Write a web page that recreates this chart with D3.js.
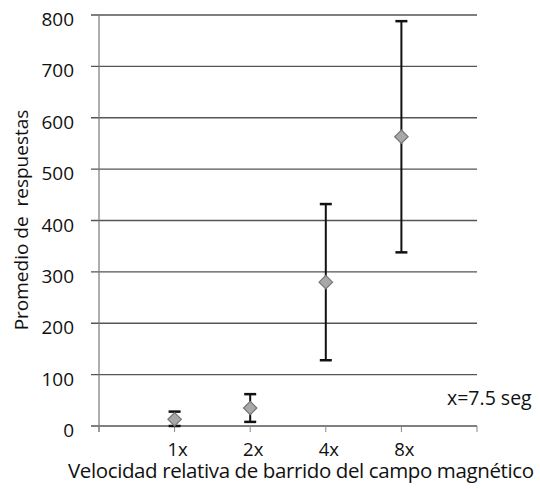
<!DOCTYPE html>
<html>
<head>
<meta charset="utf-8">
<script src="https://cdn.jsdelivr.net/npm/d3@7"></script>
<style>
  html, body { margin: 0; padding: 0; background: #fff; }
  svg { display: block; font-family: "Open Sans", "Noto Sans", sans-serif; }
</style>
</head>
<body>
<svg id="chart" width="540" height="489"></svg>
<script>
// Mean responses per relative sweep speed, with error half-widths
const categories = ["1x", "2x", "4x", "8x"];
const means = [13, 35, 280, 563];
const errors = [15, 27, 152, 225];
const yTicks = [0, 100, 200, 300, 400, 500, 600, 700, 800];
const yTitle = "Promedio de  respuestas";
const xTitle = "Velocidad relativa de barrido del campo magnético";
const note = "x=7.5 seg";

const svg = d3.select("#chart");
const plotLeft = 99, plotRight = 477, plotTop = 15, plotBottom = 426;

// Categories sit at positions 1..4 on a 0..5 axis
const x = d3.scaleLinear().domain([0, 5]).range([plotLeft, plotRight]);
const y = d3.scaleLinear().domain([0, 800]).range([plotBottom, plotTop]);

const points = categories.map((c, i) => ({ c, pos: i + 1, mean: means[i], err: errors[i] }));

// Horizontal gridlines with short stubs left of the axis
svg.append("g")
  .selectAll("line")
  .data(yTicks)
  .join("line")
  .attr("x1", plotLeft - 8)
  .attr("x2", plotRight)
  .attr("y1", d => y(d))
  .attr("y2", d => y(d))
  .attr("stroke", "#555")
  .attr("stroke-width", 1.3);

// Vertical axis line
svg.append("line")
  .attr("x1", plotLeft).attr("x2", plotLeft)
  .attr("y1", y(800)).attr("y2", y(0) + 6)
  .attr("stroke", "#777").attr("stroke-width", 1.2);

// Bottom ticks at every unit of the x scale
svg.append("g")
  .selectAll("line")
  .data(d3.range(0, 6))
  .join("line")
  .attr("x1", d => x(d)).attr("x2", d => x(d))
  .attr("y1", y(0)).attr("y2", y(0) + 6)
  .attr("stroke", "#888").attr("stroke-width", 1);

// Y tick labels
svg.append("g")
  .selectAll("text")
  .data(yTicks)
  .join("text")
  .attr("x", 74)
  .attr("y", d => y(d) + 6)
  .attr("text-anchor", "end")
  .attr("dominant-baseline", "middle")
  .attr("font-size", 19)
  .attr("fill", "#111")
  .text(d => d);

// X category labels
svg.append("g")
  .selectAll("text")
  .data(points)
  .join("text")
  .attr("x", d => x(d.pos) + 3)
  .attr("y", 456)
  .attr("text-anchor", "middle")
  .attr("font-size", 18.5)
  .attr("fill", "#111")
  .text(d => d.c);

// Error bars
const eb = svg.append("g").attr("stroke", "#111").attr("stroke-width", 2);
points.forEach(d => {
  const lo = Math.max(d.mean - d.err, 0);
  const hi = d.mean + d.err;
  eb.append("line")
    .attr("x1", x(d.pos)).attr("x2", x(d.pos))
    .attr("y1", y(lo)).attr("y2", y(hi));
  [lo, hi].forEach(v => {
    eb.append("line")
      .attr("x1", x(d.pos) - 6).attr("x2", x(d.pos) + 6)
      .attr("y1", y(v)).attr("y2", y(v))
      .attr("stroke-width", 2.5);
  });
});

// Diamond markers at the means
svg.append("g")
  .selectAll("path")
  .data(points)
  .join("path")
  .attr("d", d3.symbol().type(d3.symbolDiamond2).size(115))
  .attr("transform", d => `translate(${x(d.pos)},${y(d.mean)})`)
  .attr("fill", "#a8a8a8")
  .attr("stroke", "#777")
  .attr("stroke-width", 1.2);

// Axis titles and annotation
svg.append("text")
  .attr("transform", "translate(23,220) rotate(-90)")
  .attr("text-anchor", "middle")
  .attr("dominant-baseline", "middle")
  .attr("font-size", 19)
  .attr("fill", "#111")
  .style("white-space", "pre")
  .text(yTitle);

svg.append("text")
  .attr("x", 68)
  .attr("y", 478)
  .attr("font-size", 20.5)
  .attr("textLength", 466)
  .attr("lengthAdjust", "spacing")
  .attr("fill", "#111")
  .text(xTitle);

svg.append("text")
  .attr("x", 447)
  .attr("y", 405)
  .attr("font-size", 19.5)
  .attr("fill", "#111")
  .text(note);
</script>
</body>
</html>
